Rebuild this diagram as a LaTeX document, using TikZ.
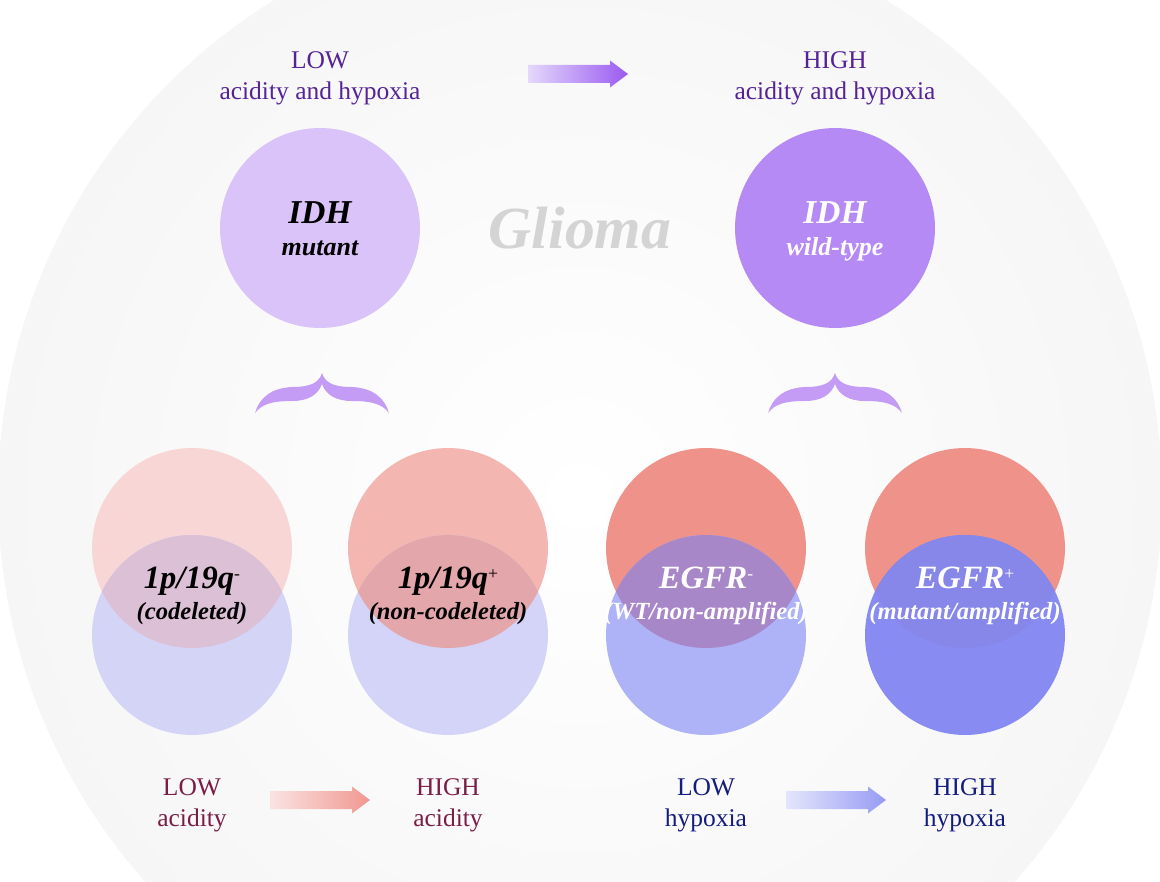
\documentclass[tikz,border=0pt]{standalone}
\usepackage{fontspec}
\setmainfont{Liberation Serif}
\usetikzlibrary{positioning}
\definecolor{idhmut}{RGB}{217,195,249}
\definecolor{idhwt}{RGB}{182,138,245}
\definecolor{labpurple}{RGB}{85,35,150}
\definecolor{labcrimson}{RGB}{122,30,70}
\definecolor{labnavy}{RGB}{20,28,128}
\definecolor{bracefill}{RGB}{196,156,245}
\definecolor{gliomagray}{RGB}{212,212,212}
\definecolor{p1top}{RGB}{247,214,213}
\definecolor{p1bot}{RGB}{212,212,247}
\definecolor{p1mix}{RGB}{220,192,214}
\definecolor{p2top}{RGB}{244,182,177}
\definecolor{p2bot}{RGB}{212,212,248}
\definecolor{p2mix}{RGB}{227,166,171}
\definecolor{p3top}{RGB}{239,146,138}
\definecolor{p3bot}{RGB}{174,178,247}
\definecolor{p3mix}{RGB}{168,135,201}
\definecolor{p4top}{RGB}{239,146,138}
\definecolor{p4bot}{RGB}{136,139,242}
\definecolor{p4mix}{RGB}{134,135,233}
\definecolor{arrpurA}{RGB}{228,216,251}
\definecolor{arrpurB}{RGB}{154,90,240}
\definecolor{arrredA}{RGB}{249,227,226}
\definecolor{arrredB}{RGB}{240,152,144}
\definecolor{arrbluA}{RGB}{228,230,251}
\definecolor{arrbluB}{RGB}{151,155,244}
\newcommand{\supsign}[1]{\raisebox{5pt}{\fontsize{10}{10}\selectfont\mdseries\upshape #1}}
\tikzset{
  gbig/.style  ={circle, minimum size=4cm, inner sep=0pt, draw=none},
  gpair/.style ={circle, minimum size=4cm, inner sep=0pt, draw=none},
  glabel/.style={align=center, inner sep=0pt, font=\fontsize{14.5}{17.5}\selectfont},
  gmain/.style ={inner sep=0pt, anchor=base, font=\fontsize{19}{23}\selectfont\bfseries\itshape},
  gpmain/.style={gmain, font=\fontsize{18.5}{22}\selectfont\bfseries\itshape},
  gsub/.style  ={inner sep=0pt, anchor=base, font=\fontsize{14.8}{18}\selectfont\bfseries\itshape},
  gpsub/.style ={gsub, font=\fontsize{14}{17}\selectfont\bfseries\itshape},
  gtitle/.style={inner sep=0pt, anchor=base, text=gliomagray,
                 font=\fontsize{34}{40}\selectfont\bfseries\itshape},
  gbrace/.pic={
    \fill[bracefill] (-67,40) .. controls (-63,26) and (-52,15) .. (-30,14)
      .. controls (-12,14) and (-3,10) .. (0,0)
      .. controls (3,10) and (12,14) .. (30,14)
      .. controls (52,15) and (63,26) .. (67,40)
      .. controls (60,31) and (50,28) .. (30,28)
      .. controls (14,28) and (4,22) .. (0,11)
      .. controls (-4,22) and (-14,28) .. (-30,28)
      .. controls (-50,28) and (-60,31) .. (-67,40) -- cycle;
  },
}
\begin{document}
\begin{tikzpicture}[x=0.02cm, y=-0.02cm]
  \useasboundingbox (0,0) rectangle (1160,882);
  % backdrop
  \shade[inner color=white, outer color=black!3.5] (580,495) circle (11.64cm);

  % top row
  \node[glabel, text=labpurple] (lowtop)  at (320,78) {LOW\\acidity and hypoxia};
  \node[glabel, text=labpurple] (hightop) at (835,78) {HIGH\\acidity and hypoxia};
  \node[gbig, fill=idhmut] (mut) at (320,228) {};
  \node[gbig, fill=idhwt]  (wt)  at (835,228) {};
  \node[gmain] (mutA) at (320,223) {IDH};
  \node[gsub]  (mutB) at (320,255) {mutant};
  \node[gmain, text=white] (wtA) at (835,223) {IDH};
  \node[gsub, text=white]  (wtB) at (835,255) {wild-type};
  \node[gtitle] (glioma) at (580,248) {Glioma};

  % braces
  \pic at (322,373) {gbrace};
  \pic at (835,373) {gbrace};

  % overlapping pairs
  \foreach \px/\nm in {192/p1,448/p2,706/p3,965/p4} {
    \node[gpair, fill=\nm top] (\nm top) at (\px,548) {};
    \node[gpair, fill=\nm bot] (\nm bot) at (\px,635) {};
    \begin{scope}
      \clip (\nm top.center) circle (2cm);
      \fill[\nm mix] (\nm bot.center) circle (2cm);
    \end{scope}
  }
  \node[gpmain] (codelA) at (192,588) {1p/19q\supsign{-}};
  \node[gpsub]  (codelB) at (192,619) {(codeleted)};
  \node[gpmain] (noncoA) at (448,588) {1p/19q\supsign{+}};
  \node[gpsub]  (noncoB) at (448,619) {(non-codeleted)};
  \node[gpmain, text=white] (egfrnA) at (706,588) {EGFR\supsign{-}};
  \node[gpsub, text=white]  (egfrnB) at (706,619) {(WT/non-amplified)};
  \node[gpmain, text=white] (egfrpA) at (965,588) {EGFR\supsign{+}};
  \node[gpsub, text=white]  (egfrpB) at (965,619) {(mutant/amplified)};

  % bottom row
  \node[glabel, text=labcrimson] (lowacid)  at (192,805) {LOW\\acidity};
  \node[glabel, text=labcrimson] (highacid) at (448,805) {HIGH\\acidity};
  \node[glabel, text=labnavy]    (lowhyp)   at (706,805) {LOW\\hypoxia};
  \node[glabel, text=labnavy]    (highhyp)  at (965,805) {HIGH\\hypoxia};

  % block arrows
  \foreach \ax/\ay/\ca/\cb in {528/74/arrpurA/arrpurB, 270/800/arrredA/arrredB,
                               786/800/arrbluA/arrbluB}
    \shade[left color=\ca, right color=\cb] (\ax,\ay-9) -- ++(82,0) -- ++(0,-4.5)
      -- ++(18,13.5) -- ++(-18,13.5) -- ++(0,-4.5) -- ++(-82,0) -- cycle;
\end{tikzpicture}
\end{document}
